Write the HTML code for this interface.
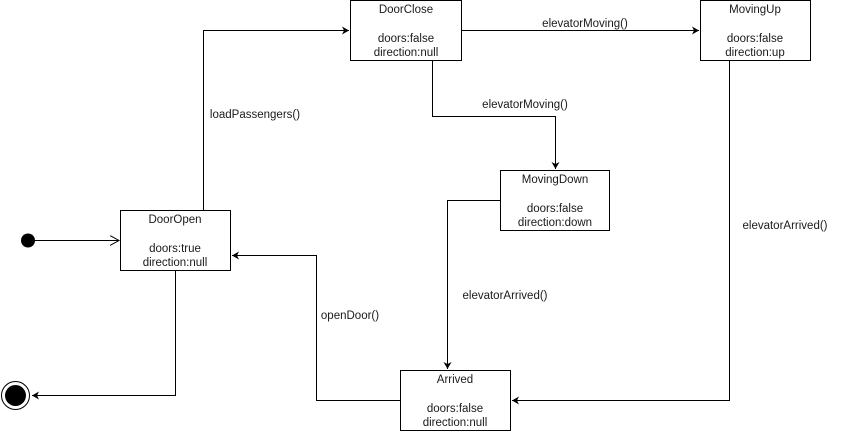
<!DOCTYPE html>
<html><head><style>
html,body{margin:0;padding:0;background:#fff;width:841px;height:431px;overflow:hidden}
svg text{font-family:"Liberation Sans",Arial,sans-serif;font-size:11.5px;fill:#1a1a1a}
</style></head><body>
<svg width="841" height="431" xmlns="http://www.w3.org/2000/svg">
<defs>
<marker id="a" markerWidth="10" markerHeight="10" refX="7" refY="4" orient="auto" markerUnits="userSpaceOnUse">
<path d="M0,0 L7,4 L0,8 L2,4 Z" fill="#000"/></marker>
<marker id="o" markerWidth="12" markerHeight="12" refX="9" refY="5" orient="auto" markerUnits="userSpaceOnUse">
<path d="M0,0 L9,5 L0,10" fill="none" stroke="#000"/></marker>
</defs>
<g fill="none" stroke="#000" stroke-width="1">
<rect x="350.5" y="0.5" width="111" height="60" fill="#fff"/>
<rect x="700.5" y="0.5" width="110" height="60" fill="#fff"/>
<rect x="500.5" y="170.5" width="109" height="60" fill="#fff"/>
<rect x="120.5" y="210.5" width="110" height="60" fill="#fff"/>
<rect x="400.5" y="370.5" width="110" height="60" fill="#fff"/>
<path d="M35,240.5 H119" marker-end="url(#o)"/>
<path d="M203.5,210 V30.5 H349" marker-end="url(#a)"/>
<path d="M462,30.5 H699" marker-end="url(#a)"/>
<path d="M432.5,61 V116.5 H555.5 V169" marker-end="url(#a)"/>
<path d="M500,200.5 H447.5 V369" marker-end="url(#a)"/>
<path d="M729.5,61 V400.5 H512" marker-end="url(#a)"/>
<path d="M400,400.5 H316.5 V255.5 H232" marker-end="url(#a)"/>
<path d="M175.5,271 V395.5 H32" marker-end="url(#a)"/>
<circle cx="15.5" cy="395.5" r="14"/>
</g>
<circle cx="28" cy="240.5" r="7" fill="#000"/>
<circle cx="15.5" cy="395.5" r="10.5" fill="#000"/>
<g text-anchor="middle">
<text x="406" y="13">DoorClose</text><text x="406" y="42">doors:false</text><text x="406" y="56">direction:null</text>
<text x="755" y="13">MovingUp</text><text x="755" y="42">doors:false</text><text x="755" y="56">direction:up</text>
<text x="555" y="183">MovingDown</text><text x="555" y="212">doors:false</text><text x="555" y="226">direction:down</text>
<text x="175" y="223">DoorOpen</text><text x="175" y="252">doors:true</text><text x="175" y="266">direction:null</text>
<text x="455" y="383">Arrived</text><text x="455" y="412">doors:false</text><text x="455" y="426">direction:null</text>
<text x="255" y="118">loadPassengers()</text>
<text x="585" y="27">elevatorMoving()</text>
<text x="525" y="108">elevatorMoving()</text>
<text x="505" y="299">elevatorArrived()</text>
<text x="785" y="229">elevatorArrived()</text>
<text x="350" y="319">openDoor()</text>
</g>
</svg>
</body></html>
